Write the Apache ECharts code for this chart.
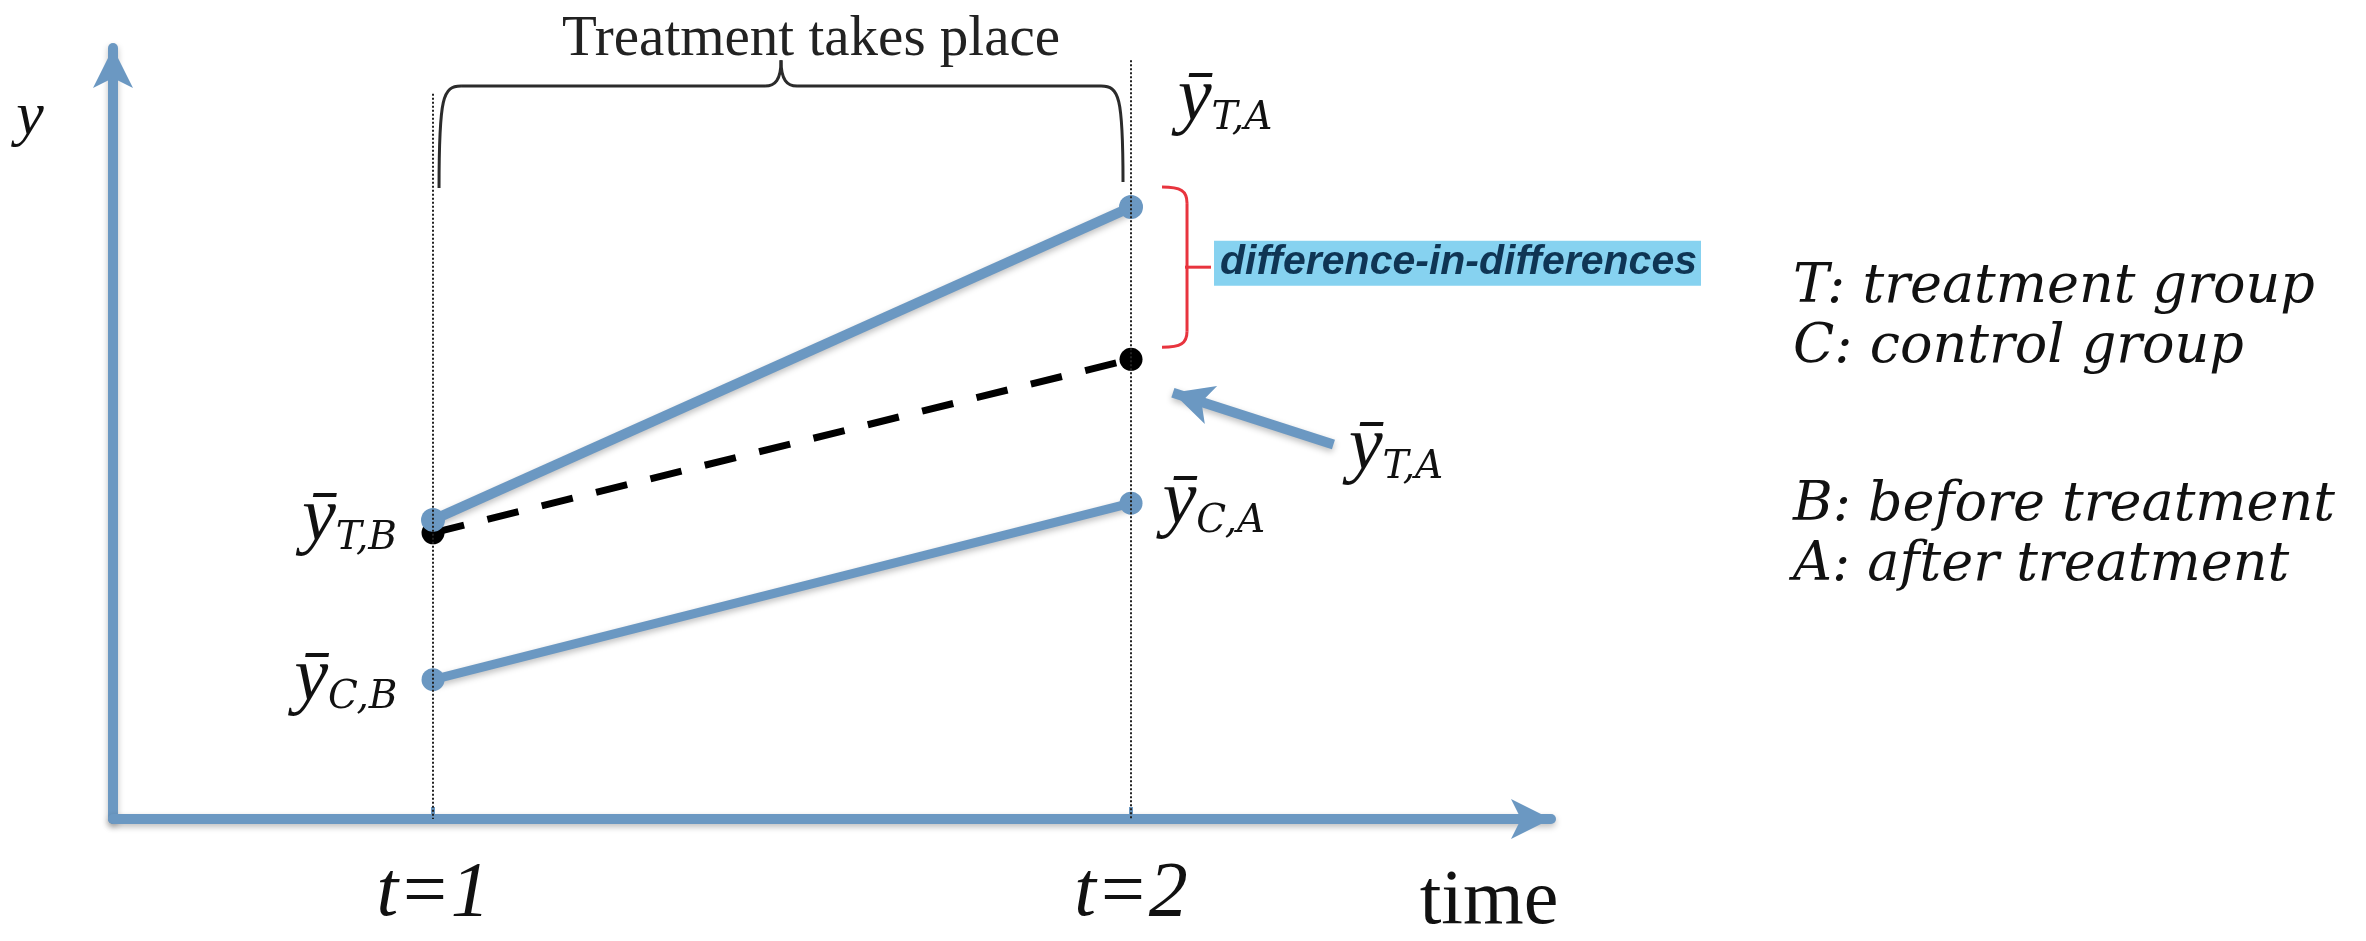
<!DOCTYPE html>
<html>
<head>
<meta charset="utf-8">
<title>Difference-in-differences</title>
<script src="https://cdn.jsdelivr.net/npm/echarts@6/dist/echarts.min.js"></script>
<style>
  html, body { margin: 0; padding: 0; background: #fff; }
  #chart { width: 2366px; height: 941px; }
</style>
</head>
<body>
<div id="chart"></div>
<script>
// time points and their labels
const periods = [1, 2]
const periodLabels = ['t=1', 't=2']
// group means (y runs from 0 at the x axis)
const treatment = [3.93, 8.04]
const counterfactual = [3.76, 6.04]
const control = [1.83, 4.15]
// arrow that points at the counterfactual mean: tail, then head
const arrowX = [2.29, 2.06]
const arrowY = [4.92, 5.6]
// where the dotted guides at t=1 and t=2 begin
const guideTop = [9.53, 9.97]

const BLUE = '#6b98c2'
const SERIF = "'Liberation Serif', 'DejaVu Serif', serif"
const INK = '#111111'

const richY = {
  y: { fontFamily: SERIF, fontStyle: 'italic', fontSize: 76, color: INK },
  s: { fontFamily: "'DejaVu Serif', serif", fontStyle: 'italic', fontSize: 39, color: INK, verticalAlign: 'bottom', lineHeight: 30 }
}

function meanLabel(sub, position, extra) {
  return Object.assign({
    show: true,
    position: position,
    formatter: '{y|\u0233}{s|' + sub + '}',
    rich: richY
  }, extra || {})
}

const shadow = { shadowColor: 'rgba(0,0,0,0.25)', shadowBlur: 6, shadowOffsetY: 3 }

const option = {
  backgroundColor: '#ffffff',
  animation: false,
  grid: { left: 113, right: 815, top: 48, bottom: 122 },
  xAxis: {
    type: 'value',
    min: 0.5415,
    max: 2.6017,
    splitLine: { show: false },
    axisLine: {
      show: true,
      onZero: false,
      symbol: ['none', 'arrow'],
      symbolSize: [30, 40],
      lineStyle: Object.assign({ color: BLUE, width: 10 }, shadow)
    },
    axisTick: { show: true, inside: true, length: 12, customValues: periods, lineStyle: { color: BLUE, width: 4 } },
    axisLabel: {
      customValues: periods,
      formatter: v => periodLabels[periods.indexOf(v)],
      fontFamily: SERIF,
      fontStyle: 'italic',
      fontSize: 78,
      color: INK,
      margin: 36
    }
  },
  yAxis: {
    type: 'value',
    min: 0,
    max: 10.13,
    splitLine: { show: false },
    axisTick: { show: false },
    axisLabel: { show: false },
    axisLine: {
      show: true,
      onZero: false,
      symbol: ['none', 'arrow'],
      symbolSize: [30, 40],
      lineStyle: Object.assign({ color: BLUE, width: 10 }, shadow)
    },
    name: 'y',
    nameLocation: 'end',
    nameGap: -70,
    nameTextStyle: {
      fontFamily: SERIF,
      fontStyle: 'italic',
      fontSize: 62,
      color: INK,
      align: 'center',
      verticalAlign: 'middle',
      padding: [0, 166, 0, 0]
    }
  },
  series: [
    {
      name: 'counterfactual',
      type: 'line',
      z: 2,
      symbol: 'circle',
      symbolSize: 23,
      itemStyle: { color: '#000' },
      lineStyle: { color: '#000', width: 7, type: [32, 24] },
      data: [
        { value: [periods[0], counterfactual[0]] },
        { value: [periods[1], counterfactual[1]] }
      ],
      markLine: {
        silent: true,
        symbol: ['none', 'arrow'],
        symbolSize: [30, 40],
        lineStyle: Object.assign({ color: BLUE, width: 10, type: 'solid' }, shadow),
        label: meanLabel('T,A', 'start', { distance: 16 }),
        data: [[
          { coord: [arrowX[0], arrowY[0]] },
          { coord: [arrowX[1], arrowY[1]] }
        ]]
      }
    },
    {
      name: 'treatment',
      type: 'line',
      z: 3,
      symbol: 'circle',
      symbolSize: 24,
      itemStyle: { color: BLUE },
      lineStyle: Object.assign({ color: BLUE, width: 10 }, shadow),
      data: [
        { value: [periods[0], treatment[0]], label: meanLabel('T,B', 'left', { distance: 24 }) },
        { value: [periods[1], treatment[1]], label: meanLabel('T,A', 'top', { offset: [94, -52] }) }
      ]
    },
    {
      name: 'control',
      type: 'line',
      z: 3,
      symbol: 'circle',
      symbolSize: 23,
      itemStyle: { color: BLUE },
      lineStyle: Object.assign({ color: BLUE, width: 9 }, shadow),
      data: [
        { value: [periods[0], control[0]], label: meanLabel('C,B', 'left', { distance: 24 }) },
        { value: [periods[1], control[1]], label: meanLabel('C,A', 'right', { distance: 20 }) }
      ],
      markLine: {
        silent: true,
        symbol: 'none',
        label: { show: false },
        lineStyle: { color: '#222', width: 2, type: 'dotted' },
        data: periods.map((p, i) => [{ coord: [p, guideTop[i]] }, { coord: [p, 0] }])
      }
    }
  ]
}

const chart = echarts.init(document.getElementById('chart'))
chart.setOption(option)

// annotations placed from the data scale
const px = (x, y) => chart.convertToPixel({ gridIndex: 0 }, [x, y])
const p1 = px(periods[0], 0)
const p2 = px(periods[1], 0)
const pT = px(periods[1], treatment[1])
const pD = px(periods[1], counterfactual[1])

function bez(a, c1, c2, b, color, w) {
  return {
    type: 'bezierCurve',
    shape: { x1: a[0], y1: a[1], cpx1: c1[0], cpy1: c1[1], cpx2: c2[0], cpy2: c2[1], x2: b[0], y2: b[1] },
    style: { stroke: color, lineWidth: w, fill: null }
  }
}
function seg(a, b, color, w) {
  return { type: 'line', shape: { x1: a[0], y1: a[1], x2: b[0], y2: b[1] }, style: { stroke: color, lineWidth: w } }
}

// curly brace over the treatment period
const bx1 = p1[0] + 6
const bx2 = p2[0] - 8
const bxm = (bx1 + bx2) / 2
const byh = px(1, 9.63)[1]
const byp = px(1, 9.97)[1]
const byl = px(1, 8.29)[1]
const byr = px(1, 8.37)[1]
const braceColor = '#2b2b2b'
const topBrace = [
  bez([bx1, byl], [bx1, byh + 10], [bx1 + 4, byh], [bx1 + 22, byh], braceColor, 3),
  seg([bx1 + 22, byh], [bxm - 16, byh], braceColor, 3),
  bez([bxm - 16, byh], [bxm - 6, byh], [bxm, byh - 6], [bxm, byp], braceColor, 3),
  bez([bxm, byp], [bxm, byh - 6], [bxm + 6, byh], [bxm + 16, byh], braceColor, 3),
  seg([bxm + 16, byh], [bx2 - 22, byh], braceColor, 3),
  bez([bx2 - 22, byh], [bx2 - 4, byh], [bx2, byh + 10], [bx2, byr], braceColor, 3)
]

// red brace between the treated mean and the counterfactual
const RED = '#e8343e'
const rxe = p2[0] + 31
const rxv = p2[0] + 56
const rxt = p2[0] + 80
const ryt = pT[1] - 20
const ryb = pD[1] - 12
const rym = (ryt + ryb) / 2
const redBrace = [
  bez([rxe, ryt], [rxv - 6, ryt], [rxv, ryt + 4], [rxv, ryt + 16], RED, 3),
  seg([rxv, ryt + 16], [rxv, ryb - 16], RED, 3),
  bez([rxv, ryb - 16], [rxv, ryb - 4], [rxv - 6, ryb], [rxe, ryb], RED, 3),
  seg([rxv - 2, rym], [rxt, rym], RED, 3)
]

const axisEnd = px(2.6017, 0)

chart.setOption({
  graphic: [].concat(topBrace, redBrace, [
    {
      type: 'text',
      x: bxm + 30,
      y: px(1, 10.24)[1],
      style: {
        text: 'Treatment takes place',
        font: '57px ' + SERIF,
        fill: '#222',
        textAlign: 'center',
        textVerticalAlign: 'middle'
      }
    },
    {
      type: 'text',
      x: axisEnd[0] - 62,
      y: axisEnd[1] + 84,
      style: {
        text: 'time',
        font: '78px ' + SERIF,
        fill: INK,
        textAlign: 'center',
        textVerticalAlign: 'middle'
      }
    },
    {
      type: 'text',
      x: rxt + 3,
      y: rym - 4,
      style: {
        text: 'difference-in-differences',
        font: 'italic bold 41px "Liberation Sans", Arial, sans-serif',
        fill: '#0f3554',
        backgroundColor: '#86d2f0',
        padding: [2, 4, 2, 6],
        textAlign: 'left',
        textVerticalAlign: 'middle'
      }
    },
    {
      type: 'text',
      x: 1793,
      y: 258,
      style: {
        text: 'T: treatment group\nC: control group',
        font: 'italic 54px "DejaVu Serif", serif',
        lineHeight: 60,
        fill: INK,
        textAlign: 'left',
        textVerticalAlign: 'top'
      }
    },
    {
      type: 'text',
      x: 1793,
      y: 476,
      style: {
        text: 'B: before treatment\nA: after treatment',
        font: 'italic 54px "DejaVu Serif", serif',
        lineHeight: 60,
        fill: INK,
        textAlign: 'left',
        textVerticalAlign: 'top'
      }
    }
  ])
})
</script>
</body>
</html>
